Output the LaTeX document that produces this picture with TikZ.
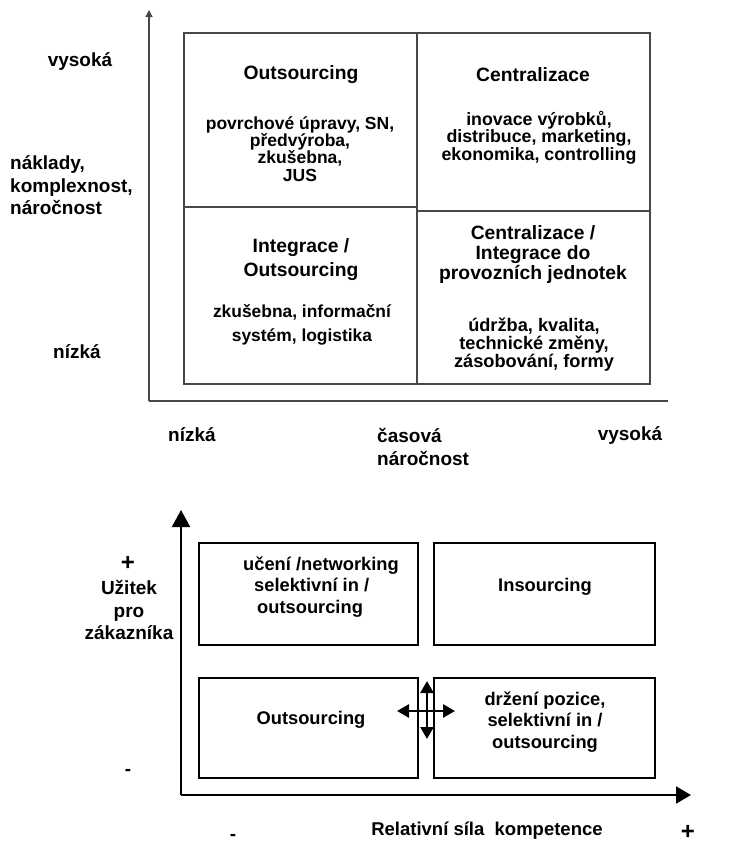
\documentclass[tikz,border=0pt]{standalone}
\usepackage{fontspec}
\setmainfont{Liberation Sans}
\usetikzlibrary{arrows.meta}
\begin{document}
\begin{tikzpicture}[x=1pt,y=-1pt,
  head/.style={font=\bfseries\fontsize{19.3}{20}\selectfont, align=center, inner sep=0pt},
  body/.style={font=\bfseries\fontsize{17.5}{17.5}\selectfont, align=center, inner sep=0pt},
  lab/.style={font=\bfseries\fontsize{19}{22.5}\selectfont, inner sep=0pt},
  sign/.style={font=\bfseries\fontsize{24}{24}\selectfont, inner sep=0pt},
  btxt/.style={font=\bfseries\fontsize{18.3}{21.5}\selectfont, align=center, inner sep=0pt},
  gline/.style={draw=black!72, line width=1.3pt},
  bline/.style={draw=black, line width=2pt},
  cross/.style={draw=black, line width=2.6pt, {Triangle[length=12pt,width=13pt]}-{Triangle[length=12pt,width=13pt]}}
]
\useasboundingbox (0,0) rectangle (739,844);

% ---------- top chart ----------
\coordinate (o1) at (149,401);
\coordinate (yt1) at (149,10);
\coordinate (xe1) at (668,401);
\draw[gline, -{Triangle[length=7pt,width=7pt]}] (o1) -- (yt1);
\draw[gline] (o1) -- (xe1);

\draw[gline] (184,33) rectangle (417,207);
\draw[gline] (184,207) rectangle (417,384);
\draw[gline] (417,33) rectangle (650,211);
\draw[gline] (417,211) rectangle (650,384);

\node[head] (h1) at (301,75) {Outsourcing};
\node[body,font=\bfseries\fontsize{17.5}{17.3}\selectfont] (b1) at (300,149) {povrchové úpravy, SN,\\předvýroba,\\zkušebna,\\JUS};

\node[head] (h2) at (533,75) {Centralizace};
\node[body,font=\bfseries\fontsize{17.8}{17.5}\selectfont] (b2) at (539,137.5) {inovace výrobků,\\distribuce, marketing,\\ekonomika, controlling};

\node[head,font=\bfseries\fontsize{19.3}{24}\selectfont] (h3) at (301,260) {Integrace /\\Outsourcing};
\node[body,font=\bfseries\fontsize{17.4}{24}\selectfont] (b3) at (302,325) {zkušebna, informační\\systém, logistika};

\node[head] (h4) at (533,255) {Centralizace /\\Integrace do\\provozních jednotek};
\node[body,font=\bfseries\fontsize{18.2}{18}\selectfont] (b4) at (534,345) {údržba, kvalita,\\technické změny,\\zásobování, formy};

\node[lab] (vys1) at (80,62) {vysoká};
\node[lab, align=left, anchor=west] (nak) at (10,185.5) {náklady,\\komplexnost,\\náročnost};
\node[lab] (niz1) at (77,352) {nízká};

\node[lab] (niz2) at (192,435) {nízká};
\node[lab, align=left, anchor=west] (cas) at (377,447) {časová\\náročnost};
\node[lab] (vys2) at (630,435) {vysoká};

% ---------- bottom chart ----------
\coordinate (o2) at (181,795);
\coordinate (yt2) at (181,510);
\coordinate (xe2) at (691,795);
\draw[bline, -{Triangle[length=17pt,width=18pt]}] (o2) -- (yt2);
\draw[bline, -{Triangle[length=15pt,width=17pt]}] (o2) -- (xe2);

\draw[bline] (199,543) rectangle (418,645);
\draw[bline] (434,543) rectangle (655,645);
\draw[bline] (199,678) rectangle (418,778);
\draw[bline] (434,678) rectangle (655,778);

\node[btxt, align=left, anchor=west] (q1) at (243,587) {učení /networking\\\hspace{11pt}selektivní in /\\\hspace{14pt}outsourcing};
\node[btxt] (q2) at (545,587) {Insourcing};
\node[btxt] (q3) at (311,720) {Outsourcing};
\node[btxt] (q4) at (545,722) {držení pozice,\\selektivní in /\\outsourcing};

\coordinate (cl) at (397,711);
\coordinate (cr) at (455,711);
\coordinate (ct) at (427,681);
\coordinate (cb) at (427,739);
\draw[cross] (cl) -- (cr);
\draw[cross] (ct) -- (cb);

\node[sign] (plus1) at (128,563) {+};
\node[lab, align=center] (uz) at (129,610) {Užitek\\pro\\zákazníka};
\node[lab] (minus1) at (128,772) {-};
\node[lab] (minus2) at (233,837) {-};
\node[lab,font=\bfseries\fontsize{18.5}{22}\selectfont] (rel) at (487,831) {Relativní síla~ kompetence};
\node[sign] (plus2) at (688,832) {+};
\end{tikzpicture}
\end{document}
